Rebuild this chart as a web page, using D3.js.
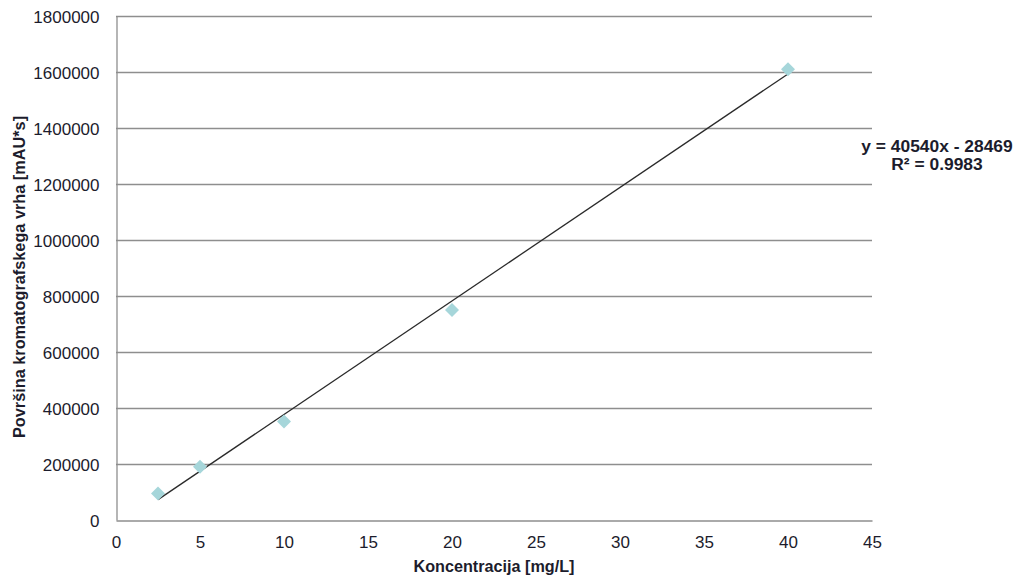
<!DOCTYPE html>
<html>
<head>
<meta charset="utf-8">
<script src="https://cdn.jsdelivr.net/npm/d3@7"></script>
<style>
  html, body { margin: 0; padding: 0; background: #fff; }
  svg { display: block; }
</style>
</head>
<body>
<script>
// ---- data ----
const concentrations = [2.5, 5, 10, 20, 40];
const peakAreas = [95000, 190000, 352000, 750000, 1610000];
const xTicks = [0, 5, 10, 15, 20, 25, 30, 35, 40, 45];
const yTicks = [0, 200000, 400000, 600000, 800000, 1000000, 1200000, 1400000, 1600000, 1800000];
const trendSlope = [40540];
const trendIntercept = [-28469];
const equationLines = ["y = 40540x - 28469", "R\u00B2 = 0.9983"];
const xTitle = "Koncentracija [mg/L]";
const yTitle = "Površina kromatografskega vrha [mAU*s]";

const W = 1016, H = 575;
const m = { left: 116, right: 872, top: 16, bottom: 520 };

const svg = d3.select("body").append("svg").attr("width", W).attr("height", H);

const x = d3.scaleLinear().domain([0, 45]).range([m.left, m.right]);
const y = d3.scaleLinear().domain([0, 1800000]).range([m.bottom, m.top]);

const font = "'Liberation Sans', Arial, sans-serif";
const gridColor = "#8e8e8e";

// gridlines
svg.append("g").selectAll("line").data(yTicks.filter(d => d > 0)).join("line")
  .attr("x1", m.left).attr("x2", m.right)
  .attr("y1", d => Math.round(y(d)) + 0.5).attr("y2", d => Math.round(y(d)) + 0.5)
  .attr("stroke", gridColor).attr("stroke-width", 1.3);

// y axis
const yAxis = svg.append("g").attr("transform", `translate(${m.left + 0.5},0)`)
  .call(d3.axisLeft(y).tickValues(yTicks).tickSize(0).tickPadding(17).tickFormat(d3.format("d")));
yAxis.select(".domain").attr("stroke", gridColor).attr("stroke-width", 1.3);
yAxis.selectAll("text").attr("font-family", font).attr("font-size", 17).attr("fill", "#1c1c2c")
  .attr("dy", "0.36em");

// x axis
const xAxis = svg.append("g").attr("transform", `translate(0,${m.bottom + 0.5})`)
  .call(d3.axisBottom(x).tickValues(xTicks).tickSize(0).tickPadding(15));
xAxis.select(".domain").attr("stroke", gridColor).attr("stroke-width", 1.3);
xAxis.selectAll("text").attr("font-family", font).attr("font-size", 17).attr("fill", "#1c1c2c");

// trendline
const data = concentrations.map((c, i) => ({ x: c, y: peakAreas[i] }));
const xMin = d3.min(concentrations), xMax = d3.max(concentrations);
const trend = [xMin, xMax].map(v => ({ x: v, y: trendSlope[0] * v + trendIntercept[0] }));
svg.append("path").datum(trend)
  .attr("d", d3.line().x(d => x(d.x)).y(d => y(d.y)))
  .attr("fill", "none").attr("stroke", "#2a2a2a").attr("stroke-width", 1.3);

// markers (diamonds)
svg.append("g").selectAll("path").data(data).join("path")
  .attr("transform", d => `translate(${x(d.x)},${y(d.y)})`)
  .attr("d", "M0,-7L7,0L0,7L-7,0Z")
  .attr("fill", "#a6d6da");

// axis titles
svg.append("text").attr("x", (m.left + m.right) / 2).attr("y", 572)
  .attr("text-anchor", "middle").attr("font-family", font).attr("font-weight", "bold")
  .attr("font-size", 16.2).attr("fill", "#1c1c2c").text(xTitle);

svg.append("text").attr("transform", `translate(25,${(m.top + m.bottom) / 2 + 9}) rotate(-90)`)
  .attr("text-anchor", "middle").attr("font-family", font).attr("font-weight", "bold")
  .attr("font-size", 16.3).attr("fill", "#1c1c2c").text(yTitle);

// equation
const eq = svg.append("text").attr("text-anchor", "middle").attr("font-family", font)
  .attr("font-weight", "bold").attr("font-size", 17.4).attr("fill", "#1c1c2c");
eq.selectAll("tspan").data(equationLines).join("tspan")
  .attr("x", 937).attr("y", (d, i) => 151.5 + i * 18).text(d => d);
</script>
</body>
</html>
